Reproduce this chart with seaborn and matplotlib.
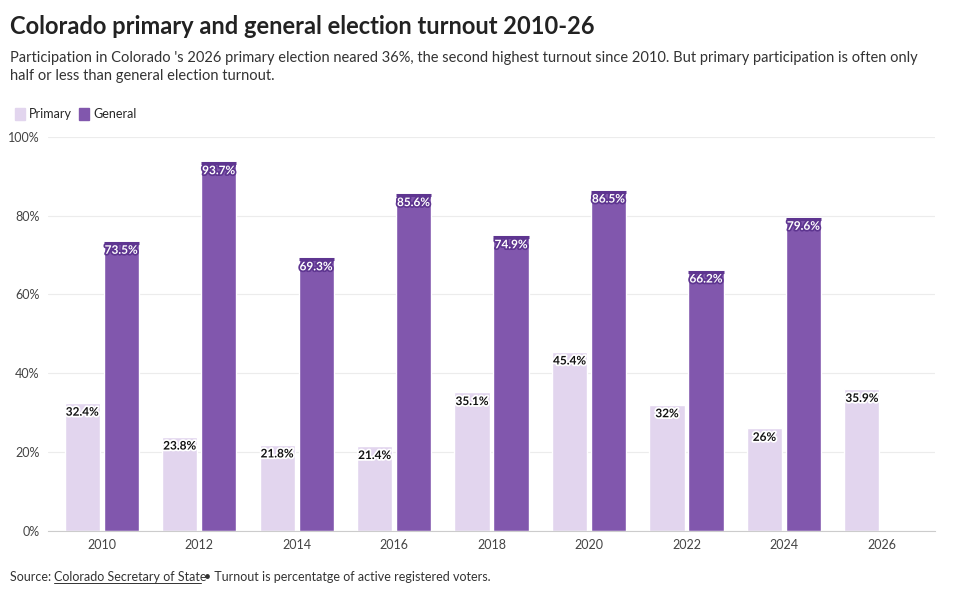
import numpy as np
import pandas as pd
import seaborn as sns
import matplotlib.pyplot as plt
import matplotlib.patheffects as pe
from matplotlib.patches import Patch

years = ["2010", "2012", "2014", "2016", "2018", "2020", "2022", "2024", "2026"]
primary = [32.4, 23.8, 21.8, 21.4, 35.1, 45.4, 32, 26, 35.9]
general = [73.5, 93.7, 69.3, 85.6, 74.9, 86.5, 66.2, 79.6, np.nan]

c_pri = "#e2d5ee"
c_gen = "#8157ad"
c_gen_dark = "#5e3590"

df = pd.DataFrame({
    "year": years * 2,
    "type": ["Primary"] * len(years) + ["General"] * len(years),
    "value": primary + general,
})

sns.set_style("white")
plt.rcParams["font.family"] = ["Lato", "DejaVu Sans"]

fig = plt.figure(figsize=(9.6, 5.95), dpi=100)
ax = fig.add_axes([0.05, 0.108, 0.924, 0.662])
sns.barplot(df, x="year", y="value", hue="type", palette=[c_pri, c_gen],
            width=0.8, gap=0.1, legend=False, ax=ax, saturation=1)

for cont, vals, dark in zip(ax.containers, [primary, general], [False, True]):
    for p, v in zip(cont.patches, vals):
        if np.isnan(v):
            continue
        lab = f"{v:g}%"
        x = p.get_x() + p.get_width() / 2
        if dark:
            ax.plot([p.get_x(), p.get_x() + p.get_width()], [v - 0.4, v - 0.4],
                    color=c_gen_dark, lw=2.2, solid_capstyle="butt")
            ax.text(x, v - 2.3, lab, ha="center", va="center", fontsize=8.5,
                    fontweight="bold", color="white",
                    path_effects=[pe.withStroke(linewidth=2.5, foreground=c_gen_dark)])
        else:
            ax.text(x, v - 2.3, lab, ha="center", va="center", fontsize=8.5,
                    fontweight="bold", color="#111111",
                    path_effects=[pe.withStroke(linewidth=2.5, foreground="white")])

ax.set_ylim(0, 100)
ax.set_xlim(-0.55, 8.55)
ax.set_yticks(range(0, 101, 20))
ax.set_yticklabels([f"{t}%" for t in range(0, 101, 20)])
ax.grid(axis="y", color="#ececec", lw=0.8)
ax.set_axisbelow(True)
ax.set_xlabel("")
ax.set_ylabel("")
ax.tick_params(axis="both", labelsize=9, colors="#444444", length=0, pad=6)
for s in ax.spines.values():
    s.set_visible(False)
ax.spines["bottom"].set_visible(True)
ax.spines["bottom"].set_color("#cccccc")

fig.text(0.01, 0.955, "Colorado primary and general election turnout 2010-26",
         fontsize=17, fontweight="bold", color="#222222", va="center")
fig.text(0.01, 0.887,
         "Participation in Colorado 's 2026 primary election neared 36%, the second highest turnout since 2010. But primary participation is often only\nhalf or less than general election turnout.",
         fontsize=10.5, color="#333333", va="center", linespacing=1.35)
leg = fig.legend(handles=[Patch(color=c_pri, label="Primary"), Patch(color=c_gen, label="General")],
                 loc="upper left", bbox_to_anchor=(0.004, 0.838), ncol=2, frameon=False,
                 fontsize=9, handlelength=0.8, handleheight=1.1, handletextpad=0.3,
                 columnspacing=0.6)
fig.text(0.01, 0.031, "Source: ", fontsize=9, color="#333333", va="center")
fig.text(0.056, 0.031, "Colorado Secretary of State", fontsize=9, color="#333333",
         va="center", usetex=False)
fig.text(0.056, 0.031, "_" * 32, fontsize=9, color="#333333", va="center", alpha=0)
fig.text(0.213, 0.031, "• Turnout is percentatge of active registered voters.",
         fontsize=9, color="#333333", va="center")
fig.add_artist(plt.Line2D([0.056, 0.209], [0.021, 0.021], color="#333333", lw=0.7))

fig.savefig("out.png", dpi=100, facecolor="white")
